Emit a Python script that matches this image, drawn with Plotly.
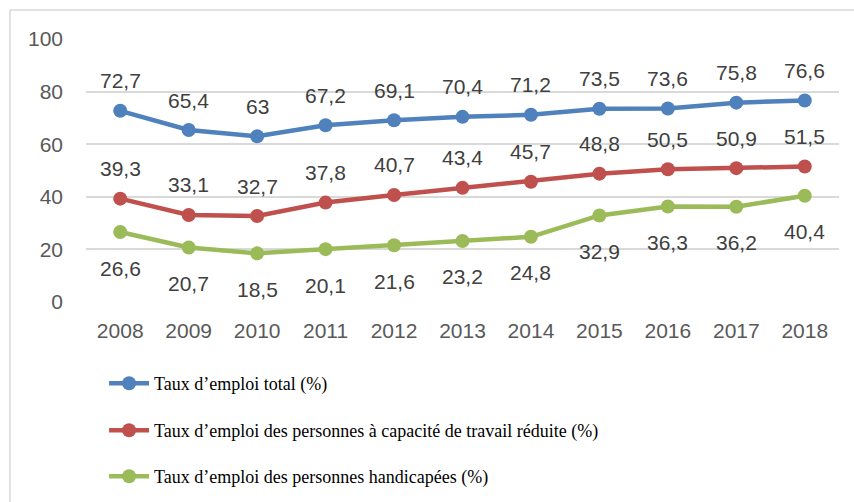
import plotly.graph_objects as go

years = ["2008", "2009", "2010", "2011", "2012", "2013", "2014", "2015", "2016", "2017", "2018"]
taux_total = [72.7, 65.4, 63, 67.2, 69.1, 70.4, 71.2, 73.5, 73.6, 75.8, 76.6]
taux_reduite = [39.3, 33.1, 32.7, 37.8, 40.7, 43.4, 45.7, 48.8, 50.5, 50.9, 51.5]
taux_handicap = [26.6, 20.7, 18.5, 20.1, 21.6, 23.2, 24.8, 32.9, 36.3, 36.2, 40.4]

names = [
    "Taux d\u2019emploi total (%)",
    "Taux d\u2019emploi des personnes à capacité de travail réduite (%)",
    "Taux d\u2019emploi des personnes handicapées (%)",
]
colors = ["#4F81BD", "#C0504D", "#9BBB59"]
series = [taux_total, taux_reduite, taux_handicap]
label_shift = [30, 30, -36]
legend_ids = ["legend", "legend2", "legend3"]
legend_y = [0.2729, 0.1793, 0.0876]

xs = list(range(len(years)))

def fmt(v):
    s = ("%g" % v)
    return s.replace(".", ",")

fig = go.Figure()
for i, (vals, name, col) in enumerate(zip(series, names, colors)):
    fig.add_trace(go.Scatter(
        x=xs, y=vals, name=name, mode="lines+markers",
        line=dict(color=col, width=4.5),
        marker=dict(color=col, size=14),
        legend=legend_ids[i],
    ))
    for x, v in zip(xs, vals):
        fig.add_annotation(x=x, y=v, text=fmt(v), showarrow=False,
                           yshift=label_shift[i],
                           font=dict(family="Liberation Sans, Arial", size=21, color="#404040"))

fig.add_shape(type="rect", xref="paper", yref="paper",
              x0=-0.101, x1=1.05, y0=-0.9, y1=1.11,
              line=dict(color="#D9D9D9", width=1.5), layer="below")

legend_style = dict(
    x=0.024, xanchor="left", yanchor="top", xref="paper", yref="container",
    font=dict(family="Liberation Serif, Times New Roman", size=18, color="black"),
    itemwidth=40, bgcolor="rgba(0,0,0,0)",
)

fig.update_layout(
    width=854, height=502,
    margin=dict(l=86, r=15, t=39, b=200),
    paper_bgcolor="white", plot_bgcolor="white",
    showlegend=True,
    legend=dict(legend_style, y=legend_y[0]),
    legend2=dict(legend_style, y=legend_y[1]),
    legend3=dict(legend_style, y=legend_y[2]),
    xaxis=dict(
        tickmode="array", tickvals=xs, ticktext=years,
        range=[-0.5, len(years) - 0.5],
        showgrid=False, zeroline=False, showline=False, ticks="",
        ticklabelstandoff=14,
        tickfont=dict(family="Liberation Sans, Arial", size=21, color="#595959"),
    ),
    yaxis=dict(
        range=[0, 100], tickvals=[0, 20, 40, 60, 80, 100],
        showgrid=True, gridcolor="#D9D9D9", gridwidth=1.5,
        zeroline=False, showline=False, ticks="",
        ticklabelstandoff=22,
        tickfont=dict(family="Liberation Sans, Arial", size=21, color="#595959"),
    ),
)
fig.write_html("out.html", config={"displayModeBar": False},
               post_script="document.body.style.margin='0';document.body.style.overflow='hidden';")
